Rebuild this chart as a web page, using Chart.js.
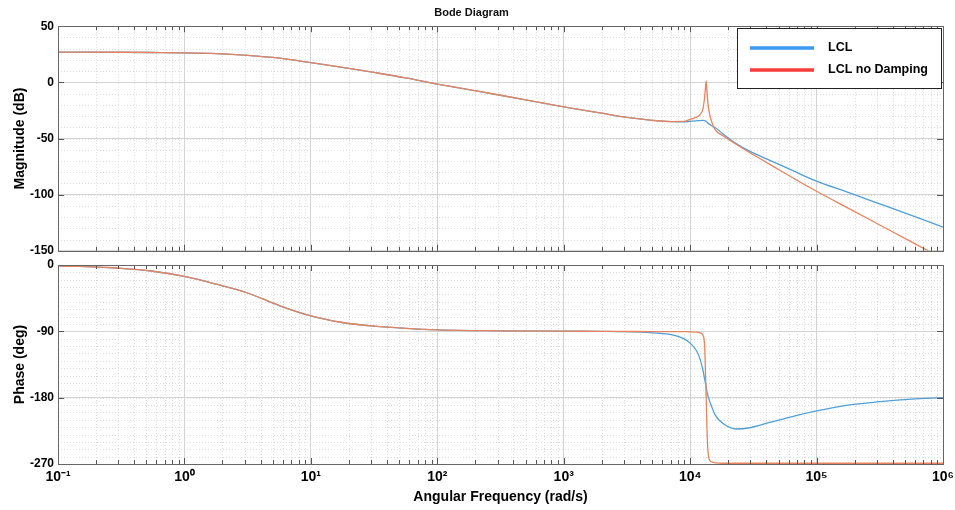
<!DOCTYPE html>
<html>
<head>
<meta charset="utf-8">
<title>Bode Diagram</title>
<script src="https://cdn.jsdelivr.net/npm/chart.js@4.4.1/dist/chart.umd.min.js"></script>
<style>
  body { margin: 0; background: #fff; overflow: hidden; }
  #wrap { position: relative; width: 955px; height: 510px; overflow: hidden; }
  #mag-chart { position: absolute; left: 0; top: 0; }
  #phase-chart { position: absolute; left: 0; top: 250px; }
</style>
</head>
<body>
<div id="wrap">
  <canvas id="mag-chart" width="975" height="262"></canvas>
  <canvas id="phase-chart" width="975" height="260"></canvas>
</div>
<script>
// angular frequency (rad/s)
const freq = [0.1, 0.316, 0.562, 1, 1.78, 3.16, 5.62, 10, 17.8, 31.6, 56.2, 100, 316, 1000, 2000, 3160,
  5010, 7080, 8910, 10000, 11200, 12000, 12600, 13030, 13240, 13400, 13550, 13800, 14130, 14790, 15850,
  18200, 23440, 29510, 42660, 63100, 100000, 177800, 316200, 562300, 1000000];

// magnitude (dB)
const magLCL = [26.9, 26.8, 26.6, 26.3, 25.6, 24.0, 21.5, 17.5, 13.3, 8.8, 4.0, -1.5, -11.5, -21.8, -27.5, -31.2,
  -33.8, -34.9, -35.1, -34.7, -34.3, -34.0, -33.9, -34.0, -34.4, -34.9, -35.4, -36.2, -37.2, -38.6, -40.5,
  -46.0, -55.0, -61.3, -69.4, -78.0, -88.0, -98.0, -108.2, -118.4, -129.0];
const magNoDamp = [26.9, 26.8, 26.6, 26.3, 25.6, 24.0, 21.5, 17.5, 13.3, 8.8, 4.0, -1.5, -11.5, -21.8, -27.5, -31.2,
  -33.8, -34.9, -34.8, -33.0, -31.0, -28.5, -24.0, -13.0, -4.0, 1.0, -6.0, -18.0, -26.0, -35.0, -42.5,
  -47.5, -55.5, -62.5, -73.0, -84.3, -97.0, -112.0, -127.0, -142.0, -157.0];

// phase (deg)
const phaseLCL = [-1, -4.5, -8.5, -15.5, -26, -38, -55, -69, -78, -83, -86, -88, -89.3, -89.8, -90, -90.5,
  -92, -94.5, -100, -106, -116, -128, -142, -155, -161, -166, -171, -177, -183, -192, -204,
  -215, -222.5, -220.8, -213.5, -206, -198, -190, -185.5, -182, -180];
const phaseNoDamp = [-1, -4.5, -8.5, -15.5, -26, -38, -55, -69, -78, -83, -86, -88, -89.3, -89.8, -90, -90.2,
  -90.3, -90.4, -90.5, -90.6, -91, -92, -95, -110, -150, -180, -215, -250, -263, -267, -268.5,
  -269, -269, -269, -269, -269, -269, -269, -269, -269, -269];

const decades = [0.1, 1, 10, 100, 1000, 10000, 100000, 1000000];
const decadeLabels = ['10⁻¹', '10⁰', '10¹', '10²', '10³', '10⁴', '10⁵', '10⁶'];
const magTicks = [50, 0, -50, -100, -150];
const phaseTicks = [0, -90, -180, -270];

const seriesNames = ['LCL', 'LCL no Damping'];
const lineColors = ['#4f9fd8', '#e9835d'];
const legendColors = ['#3a98f2', '#f73b3b'];

const FONT = '"Liberation Sans", Arial, sans-serif';
Chart.defaults.font.family = FONT;
Chart.defaults.color = '#000';

function points(values) {
  return freq.map((f, i) => ({ x: f, y: values[i] }));
}

// matlab-ish frame: dotted minor grid, tick marks all round, box, legend
const bodeFrame = {
  id: 'bodeFrame',
  beforeDraw(chart, args, opts) {
    const { ctx, chartArea: a, scales: { x, y } } = chart;
    ctx.save();
    ctx.strokeStyle = '#dcdcdc';
    ctx.lineWidth = 1;
    ctx.setLineDash([1, 2]);
    ctx.beginPath();
    decades.slice(0, -1).forEach(d => {
      for (let k = 2; k < 10; k++) {
        const px = Math.round(x.getPixelForValue(k * d)) + 0.5;
        ctx.moveTo(px, a.top);
        ctx.lineTo(px, a.bottom);
      }
    });
    for (let v = y.min; v <= y.max; v += opts.minorStep) {
      const py = Math.round(y.getPixelForValue(v)) + 0.5;
      ctx.moveTo(a.left, py);
      ctx.lineTo(a.right, py);
    }
    ctx.stroke();
    ctx.restore();
  },
  afterDraw(chart, args, opts) {
    const { ctx, chartArea: a, scales: { x, y } } = chart;
    ctx.save();
    ctx.strokeStyle = '#555';
    ctx.lineWidth = 1;
    ctx.beginPath();
    decades.forEach((d, i) => {
      for (let k = 1; k < 10; k++) {
        if (k > 1 && i === decades.length - 1) break;
        const px = Math.round(x.getPixelForValue(k * d)) + 0.5;
        const len = k === 1 ? 6 : 4;
        ctx.moveTo(px, a.top);
        ctx.lineTo(px, a.top + len);
        ctx.moveTo(px, a.bottom);
        ctx.lineTo(px, a.bottom - len);
      }
    });
    y.ticks.forEach(t => {
      const py = Math.round(y.getPixelForValue(t.value)) + 0.5;
      ctx.moveTo(a.left, py);
      ctx.lineTo(a.left + 6, py);
      ctx.moveTo(a.right, py);
      ctx.lineTo(a.right - 6, py);
    });
    ctx.stroke();

    ctx.strokeStyle = '#666';
    ctx.strokeRect(Math.round(a.left) + 0.5, Math.round(a.top) + 0.5, Math.round(a.width), Math.round(a.height));

    if (opts.legend) {
      const bx = Math.round(a.right) - 206, by = Math.round(a.top) + 2;
      ctx.fillStyle = '#fff';
      ctx.fillRect(bx, by, 204, 60);
      ctx.strokeStyle = '#222';
      ctx.strokeRect(bx + 0.5, by + 0.5, 204, 60);
      chart.data.datasets.forEach((ds, i) => {
        const ly = by + 20 + i * 22;
        ctx.strokeStyle = legendColors[i];
        ctx.lineWidth = 3.5;
        ctx.beginPath();
        ctx.moveTo(bx + 13, ly);
        ctx.lineTo(bx + 77, ly);
        ctx.stroke();
        ctx.fillStyle = '#000';
        ctx.font = 'bold 12.5px ' + FONT;
        ctx.textBaseline = 'middle';
        ctx.fillText(ds.label, bx + 91, ly);
      });
    }
    ctx.restore();
  }
};

function datasets(blue, red) {
  return [
    { label: seriesNames[0], data: points(blue), borderColor: lineColors[0], backgroundColor: lineColors[0], order: 1 },
    { label: seriesNames[1], data: points(red), borderColor: lineColors[1], backgroundColor: lineColors[1], order: 0 }
  ];
}

const common = {
  responsive: false,
  animation: false,
  elements: {
    point: { radius: 0 },
    line: { borderWidth: 1.3, cubicInterpolationMode: 'monotone', fill: false }
  }
};

function xScale(showLabels) {
  return {
    type: 'logarithmic',
    min: 0.1,
    max: 1e6,
    afterBuildTicks: s => { s.ticks = decades.map(v => ({ value: v })); },
    ticks: {
      display: showLabels,
      autoSkip: false,
      maxRotation: 0,
      padding: 5,
      font: { size: 14, weight: 'bold' },
      callback: (v, i) => decadeLabels[i]
    },
    grid: { color: '#d4d4d4', drawTicks: false },
    border: { display: false },
    title: {
      display: showLabels,
      text: 'Angular Frequency (rad/s)',
      font: { size: 14, weight: 'bold' },
      padding: { top: 0, bottom: 4 }
    },
    afterFit: s => { s.height = showLabels ? 46 : 0; }
  };
}

function yScale(min, max, tickList, label) {
  return {
    min: min,
    max: max,
    afterBuildTicks: s => { s.ticks = tickList.map(v => ({ value: v })); },
    ticks: { font: { size: 12, weight: 'bold' }, padding: 4 },
    grid: { color: '#d4d4d4', drawTicks: false },
    border: { display: false },
    title: {
      display: true,
      text: label,
      font: { size: 14, weight: 'bold' },
      padding: { top: 12, bottom: 0 }
    },
    afterFit: s => { s.width = 58; }
  };
}

new Chart(document.getElementById('mag-chart'), {
  type: 'line',
  data: { datasets: datasets(magLCL, magNoDamp) },
  options: {
    ...common,
    layout: { padding: { left: 0, right: 32, top: 0, bottom: 8 } },
    plugins: {
      legend: { display: false },
      tooltip: { enabled: false },
      title: {
        display: true,
        text: 'Bode Diagram',
        color: '#111',
        font: { size: 11, weight: 'bold' },
        padding: { top: 6, bottom: 7 }
      },
      bodeFrame: { minorStep: 10, legend: true }
    },
    scales: {
      x: xScale(false),
      y: yScale(-150, 50, magTicks, 'Magnitude (dB)')
    }
  },
  plugins: [bodeFrame]
});

new Chart(document.getElementById('phase-chart'), {
  type: 'line',
  data: { datasets: datasets(phaseLCL, phaseNoDamp) },
  options: {
    ...common,
    layout: { padding: { left: 0, right: 32, top: 15, bottom: 0 } },
    plugins: {
      legend: { display: false },
      tooltip: { enabled: false },
      bodeFrame: { minorStep: 10, legend: false }
    },
    scales: {
      x: xScale(true),
      y: yScale(-270, 0, phaseTicks, 'Phase (deg)')
    }
  },
  plugins: [bodeFrame]
});
</script>
</body>
</html>
